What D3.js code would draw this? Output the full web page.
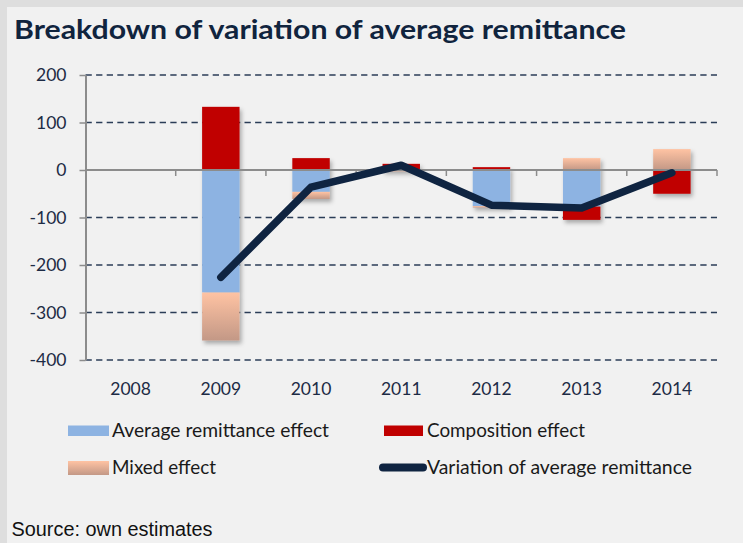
<!DOCTYPE html>
<html>
<head>
<meta charset="utf-8">
<script src="https://cdn.jsdelivr.net/npm/d3@7"></script>
<style>
  html, body { margin: 0; padding: 0; background: #dedede; }
  svg { display: block; }
</style>
</head>
<body>
<svg id="chart" width="743" height="543"></svg>
<script>
// ---- data ----
const categories = ["2008", "2009", "2010", "2011", "2012", "2013", "2014"];
const avgEffect = [0, -258, -46, -1, -76, -77, 0];
const compositionEffect = [0, 133, 25, 13, 6, -28, -50];
const mixedEffect = [0, -101, -15, -2, -3, 25, 44];
const variation = [null, -226, -36, 10, -74, -80, -6];
const yTicks = [200, 100, 0, -100, -200, -300, -400];
const seriesNames = ["Average remittance effect", "Composition effect", "Mixed effect", "Variation of average remittance"];

// ---- layout ----
const W = 743, H = 543;
const plot = { left: 85.5, right: 717, top: 75, bottom: 360 };
const svg = d3.select("#chart");

const defs = svg.append("defs");
const grad = defs.append("linearGradient").attr("id", "mixGrad")
  .attr("x1", 0).attr("y1", 0).attr("x2", 0).attr("y2", 1);
grad.append("stop").attr("offset", "0%").attr("stop-color", "#ffc3a3");
grad.append("stop").attr("offset", "100%").attr("stop-color", "#c39886");
const shadow = defs.append("filter").attr("id", "shadow")
  .attr("x", "-30%").attr("y", "-30%").attr("width", "160%").attr("height", "160%");
shadow.append("feDropShadow").attr("dx", 2).attr("dy", 3).attr("stdDeviation", 2)
  .attr("flood-color", "#000").attr("flood-opacity", 0.3);

// background
svg.append("rect").attr("width", W).attr("height", H).attr("fill", "#dedede");
svg.append("rect").attr("x", 7).attr("y", 7).attr("width", W - 7).attr("height", H - 7).attr("fill", "#f1f1f1");

// title
svg.append("text").attr("x", 14).attr("y", 39)
  .attr("font-family", "Lato, 'Open Sans', sans-serif").attr("font-weight", 700)
  .attr("font-size", 27).attr("fill", "#10243e")
  .attr("textLength", 612).attr("lengthAdjust", "spacingAndGlyphs")
  .text("Breakdown of variation of average remittance");

// scales
const x = d3.scaleBand().domain(categories).range([plot.left, plot.right])
  .paddingInner(0.585).paddingOuter(0.2925);
const xCell = d3.scaleBand().domain(categories).range([plot.left, plot.right]);
const y = d3.scaleLinear().domain([-400, 200]).range([plot.bottom, plot.top]);

// gridlines
svg.append("g").selectAll("line").data(yTicks.filter(d => d !== 0)).join("line")
  .attr("x1", plot.left).attr("x2", plot.right)
  .attr("y1", d => y(d)).attr("y2", d => y(d))
  .attr("stroke", "#2b3d57").attr("stroke-width", 1.6)
  .attr("stroke-dasharray", "6.3,4.3");

// y axis
const yAxis = svg.append("g").attr("transform", `translate(${plot.left},0)`)
  .call(d3.axisLeft(y).tickValues(yTicks).tickFormat(d => String(d))
    .tickSize(6).tickPadding(13).tickSizeOuter(0));
yAxis.select(".domain").attr("stroke", "#8c8c8c").attr("stroke-width", 2);
yAxis.selectAll(".tick line").attr("stroke", "#8c8c8c").attr("stroke-width", 1.5);
yAxis.selectAll(".tick text").attr("font-family", "Lato, 'Open Sans', sans-serif")
  .attr("font-size", 17.5).attr("fill", "#1d2b45");

// stacked bars
const rows = categories.map((c, i) => ({
  cat: c, avg: avgEffect[i], comp: compositionEffect[i], mixed: mixedEffect[i]
}));
const stack = d3.stack().keys(["avg", "comp", "mixed"]).offset(d3.stackOffsetDiverging);
const stacked = stack(rows);
const fills = { avg: "#8db3e2", comp: "#c00000", mixed: "url(#mixGrad)" };

const barsG = svg.append("g").attr("filter", "url(#shadow)");
stacked.forEach(s => {
  barsG.append("g").selectAll("rect").data(s.filter(d => d[1] - d[0] !== 0)).join("rect")
    .attr("x", d => x(d.data.cat))
    .attr("width", x.bandwidth())
    .attr("y", d => y(Math.max(d[0], d[1])))
    .attr("height", d => Math.abs(y(d[0]) - y(d[1])))
    .attr("fill", fills[s.key]);
});

// zero axis with ticks at category boundaries
const zeroG = svg.append("g").attr("transform", `translate(0,${y(0)})`);
zeroG.append("line").attr("x1", plot.left).attr("x2", plot.right)
  .attr("stroke", "#8c8c8c").attr("stroke-width", 2);
const bounds = categories.map(c => xCell(c)).concat([plot.right]);
zeroG.selectAll(".tk").data(bounds.slice(1)).join("line").attr("class", "tk")
  .attr("x1", d => d).attr("x2", d => d).attr("y1", 0).attr("y2", 6)
  .attr("stroke", "#8c8c8c").attr("stroke-width", 1.5);

// x labels
svg.append("g").selectAll("text").data(categories).join("text")
  .attr("x", d => xCell(d) + xCell.bandwidth() / 2).attr("y", 395)
  .attr("text-anchor", "middle")
  .attr("font-family", "Lato, 'Open Sans', sans-serif").attr("font-size", 17.5)
  .attr("fill", "#1d2b45").text(d => d);

// line series
const lineData = categories.map((c, i) => ({ cat: c, v: variation[i] })).filter(d => d.v !== null);
svg.append("path").datum(lineData)
  .attr("d", d3.line().x(d => x(d.cat) + x.bandwidth() / 2).y(d => y(d.v)))
  .attr("fill", "none").attr("stroke", "#0f2441").attr("stroke-width", 7.5)
  .attr("stroke-linejoin", "round").attr("stroke-linecap", "round");

// legend
const legend = svg.append("g").attr("font-family", "Lato, 'Open Sans', sans-serif")
  .attr("font-size", 19).attr("fill", "#1a1a1a");
const legItems = [
  { name: seriesNames[0], type: "rect", fill: "#8db3e2", sx: 68, sw: 41, sy: 425.5, sh: 10.5, tx: 112, ty: 437, tl: 217 },
  { name: seriesNames[1], type: "rect", fill: "#c00000", sx: 384, sw: 39, sy: 425.5, sh: 10.5, tx: 427, ty: 437, tl: 158 },
  { name: seriesNames[2], type: "rect", fill: "url(#mixGrad)", sx: 68, sw: 41, sy: 461, sh: 14, tx: 112, ty: 474, tl: 104 },
  { name: seriesNames[3], type: "line", sx: 383, sw: 40, sy: 467.5, tx: 427, ty: 474, tl: 265 }
];
legItems.forEach(it => {
  if (it.type === "rect") {
    legend.append("rect").attr("x", it.sx).attr("y", it.sy).attr("width", it.sw).attr("height", it.sh)
      .attr("fill", it.fill);
  } else {
    legend.append("line").attr("x1", it.sx).attr("x2", it.sx + it.sw).attr("y1", it.sy).attr("y2", it.sy)
      .attr("stroke", "#0f2441").attr("stroke-width", 8).attr("stroke-linecap", "round");
  }
  legend.append("text").attr("x", it.tx).attr("y", it.ty)
    .attr("textLength", it.tl).attr("lengthAdjust", "spacingAndGlyphs").text(it.name);
});

// source
svg.append("text").attr("x", 11.5).attr("y", 535.5)
  .attr("font-family", "'Liberation Sans', Arial, sans-serif").attr("font-size", 19.5)
  .attr("fill", "#111").attr("textLength", 201).attr("lengthAdjust", "spacingAndGlyphs")
  .text("Source: own estimates");
</script>
</body>
</html>
